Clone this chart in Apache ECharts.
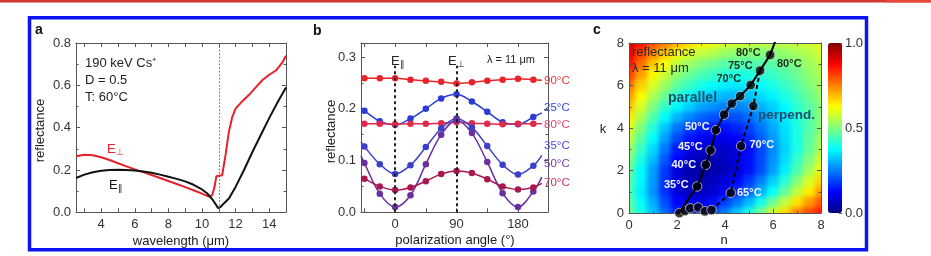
<!DOCTYPE html>
<html>
<head>
<meta charset="utf-8">
<script src="https://cdn.jsdelivr.net/npm/echarts@6/dist/echarts.min.js"></script>
<style>
html, body { margin: 0; padding: 0; background: #fff; }
#wrap { position: relative; width: 931px; height: 256px; overflow: hidden; }
#hmClip { position: absolute; left: 629px; top: 43px; width: 192px; height: 170px; overflow: hidden; }
#hm { position: absolute; left: -12px; top: -12px; width: 216px; height: 194px; filter: blur(2.5px); }
#main { position: absolute; left: 0; top: 0; width: 931px; height: 256px; }
</style>
</head>
<body>
<div id="wrap">
  <div id="hmClip"><div id="hm"></div></div>
  <div id="main"></div>
</div>
<script>
// ---- panel a : reflectance spectra ----
var wlPerp = [2.5, 3.0, 3.5, 4.0, 4.5, 5.0, 5.5, 6.0, 6.5, 7.0, 7.5, 8.0, 8.5, 9.0, 9.5, 10.0, 10.4, 10.6, 10.75, 10.85, 11.2, 11.4, 11.6, 11.8, 12.0, 12.4, 12.8, 13.2, 13.6, 14.0, 14.4, 14.8, 15.0];
var reflPerp = [0.265, 0.272, 0.270, 0.260, 0.247, 0.232, 0.217, 0.203, 0.190, 0.176, 0.162, 0.148, 0.134, 0.119, 0.104, 0.088, 0.074, 0.080, 0.120, 0.170, 0.175, 0.270, 0.380, 0.450, 0.490, 0.525, 0.555, 0.590, 0.625, 0.650, 0.670, 0.710, 0.740];
var wlPar = [2.5, 3.0, 3.5, 4.0, 4.5, 5.0, 5.5, 6.0, 6.5, 7.0, 7.5, 8.0, 8.5, 9.0, 9.5, 10.0, 10.3, 10.6, 10.8, 10.95, 11.1, 11.3, 11.6, 12.0, 12.5, 13.0, 13.5, 14.0, 14.5, 15.0];
var reflPar = [0.162, 0.178, 0.189, 0.196, 0.200, 0.201, 0.200, 0.198, 0.193, 0.187, 0.178, 0.168, 0.158, 0.146, 0.130, 0.108, 0.090, 0.063, 0.040, 0.020, 0.025, 0.042, 0.065, 0.120, 0.200, 0.285, 0.365, 0.445, 0.520, 0.590];
var wlTicks = [3, 4, 5, 6, 7, 8, 9, 10, 11, 12, 13, 14];
var wlLabels = [4, 6, 8, 10, 12, 14];

// ---- panel b : polarization scans at 11 um ----
var angles = [-45, -22.5, 0, 22.5, 45, 67.5, 90, 112.5, 135, 157.5, 180, 202.5];
var lineEndAngles = [-50, 215];
var scan90 = [0.259, 0.259, 0.259, 0.256, 0.254, 0.252, 0.249, 0.251, 0.254, 0.256, 0.258, 0.256];
var scan25 = [0.196, 0.176, 0.169, 0.181, 0.200, 0.220, 0.228, 0.214, 0.194, 0.174, 0.170, 0.184];
var scan80 = [0.171, 0.171, 0.170, 0.171, 0.171, 0.172, 0.174, 0.172, 0.171, 0.170, 0.171, 0.171];
var scan35 = [0.127, 0.093, 0.074, 0.091, 0.126, 0.162, 0.181, 0.164, 0.128, 0.092, 0.073, 0.090];
var scan50 = [0.095, 0.036, 0.010, 0.033, 0.093, 0.150, 0.178, 0.153, 0.097, 0.037, 0.010, 0.040];
var scan70 = [0.065, 0.050, 0.043, 0.048, 0.060, 0.074, 0.080, 0.076, 0.064, 0.050, 0.044, 0.048];
var ends90 = [0.259, 0.255];
var ends25 = [0.201, 0.192];
var ends80 = [0.171, 0.171];
var ends35 = [0.136, 0.110];
var ends50 = [0.109, 0.068];
var ends70 = [0.068, 0.056];
var angleTicks = [-45, 0, 45, 90, 135, 180];
var angleLabels = [0, 90, 180];

// ---- panel c : n,k map ----
var nGrid = [0, 0.5, 1, 1.5, 2, 2.5, 3, 3.5, 4, 4.5, 5, 5.5, 6, 6.5, 7, 7.5, 8];
var kGrid = [0, 0.5, 1, 1.5, 2, 2.5, 3, 3.5, 4, 4.5, 5, 5.5, 6, 6.5, 7, 7.5, 8];
// rows from k = 8 (top) down to k = 0
var reflMap = [
  [0.92, 0.86, 0.80, 0.75, 0.70, 0.66, 0.63, 0.61, 0.59, 0.58, 0.57, 0.56, 0.56, 0.56, 0.57, 0.58, 0.60],
  [0.89, 0.81, 0.74, 0.68, 0.63, 0.59, 0.565, 0.55, 0.525, 0.515, 0.51, 0.505, 0.51, 0.52, 0.535, 0.55, 0.58],
  [0.86, 0.77, 0.68, 0.62, 0.56, 0.53, 0.50, 0.48, 0.46, 0.455, 0.45, 0.455, 0.46, 0.48, 0.50, 0.53, 0.56],
  [0.81, 0.72, 0.635, 0.575, 0.515, 0.48, 0.45, 0.43, 0.41, 0.405, 0.405, 0.415, 0.43, 0.455, 0.48, 0.515, 0.545],
  [0.76, 0.67, 0.59, 0.53, 0.47, 0.43, 0.40, 0.38, 0.36, 0.355, 0.36, 0.38, 0.40, 0.43, 0.46, 0.50, 0.53],
  [0.72, 0.63, 0.545, 0.48, 0.42, 0.38, 0.345, 0.325, 0.305, 0.305, 0.315, 0.34, 0.365, 0.40, 0.44, 0.48, 0.52],
  [0.68, 0.59, 0.50, 0.43, 0.37, 0.33, 0.29, 0.27, 0.25, 0.255, 0.27, 0.30, 0.33, 0.37, 0.42, 0.46, 0.51],
  [0.64, 0.545, 0.455, 0.375, 0.305, 0.26, 0.225, 0.205, 0.195, 0.205, 0.23, 0.27, 0.31, 0.355, 0.41, 0.455, 0.51],
  [0.60, 0.50, 0.41, 0.32, 0.24, 0.19, 0.16, 0.145, 0.14, 0.16, 0.19, 0.24, 0.29, 0.345, 0.40, 0.455, 0.51],
  [0.565, 0.465, 0.375, 0.28, 0.195, 0.145, 0.115, 0.105, 0.105, 0.125, 0.16, 0.215, 0.275, 0.34, 0.40, 0.465, 0.525],
  [0.53, 0.43, 0.34, 0.24, 0.15, 0.10, 0.07, 0.065, 0.07, 0.095, 0.13, 0.19, 0.26, 0.33, 0.40, 0.47, 0.54],
  [0.50, 0.40, 0.31, 0.21, 0.12, 0.075, 0.05, 0.05, 0.065, 0.09, 0.135, 0.195, 0.27, 0.345, 0.425, 0.50, 0.575],
  [0.47, 0.375, 0.28, 0.18, 0.09, 0.05, 0.03, 0.04, 0.06, 0.09, 0.14, 0.20, 0.28, 0.36, 0.45, 0.53, 0.61],
  [0.46, 0.37, 0.275, 0.175, 0.09, 0.057, 0.045, 0.06, 0.09, 0.13, 0.18, 0.25, 0.33, 0.415, 0.505, 0.585, 0.665],
  [0.45, 0.36, 0.27, 0.17, 0.09, 0.065, 0.06, 0.08, 0.12, 0.165, 0.22, 0.30, 0.38, 0.47, 0.56, 0.64, 0.72],
  [0.465, 0.38, 0.295, 0.20, 0.125, 0.105, 0.105, 0.135, 0.185, 0.24, 0.31, 0.395, 0.48, 0.565, 0.65, 0.72, 0.785],
  [0.48, 0.40, 0.32, 0.23, 0.16, 0.145, 0.15, 0.19, 0.25, 0.32, 0.40, 0.49, 0.58, 0.66, 0.74, 0.80, 0.85]
];
var lowN = [2.10, 2.33, 2.55, 2.88, 3.16, 3.44];
var lowK = [0.00, 0.10, 0.22, 0.26, 0.08, 0.14];
var parN = [2.84, 3.20, 3.40, 3.62, 3.96, 4.28, 4.63, 5.07, 5.46, 5.88];
var parK = [1.25, 2.27, 2.95, 3.90, 4.63, 5.15, 5.50, 6.02, 6.70, 7.44];
var perpN = [4.24, 4.67, 5.18];
var perpK = [0.95, 3.15, 5.03];
var parLineStart = [2.02, -0.1], parLineEnd = [6.1, 8.1];
var perpLineStart = [3.44, 0.14], perpLineEnd = [5.46, 6.70];

var jet = ['#00007f', '#0000ff', '#007fff', '#00ffff', '#7fff7f', '#ffff00', '#ff7f00', '#ff0000', '#7f0000'];
var font = 'Liberation Sans, Arial, Helvetica, sans-serif';
var axisCol = '#555';

function zip(xs, ys) {
    var out = [];
    for (var i = 0; i < xs.length; i++) out.push([xs[i], ys[i]]);
    return out;
}

/* heatmap, drawn underneath and softened */
var hmData = [];
for (var r = 0; r < reflMap.length; r++) {
    for (var c = 0; c < nGrid.length; c++) {
        hmData.push([c, kGrid.length - 1 - r, reflMap[r][c]]);
    }
}
var hm = echarts.init(document.getElementById('hm'));
hm.setOption({
    animation: false,
    grid: { left: 6, top: 6.6875, width: 204, height: 180.625 },
    xAxis: { type: 'category', data: nGrid.map(String), show: false },
    yAxis: { type: 'category', data: kGrid.map(String), show: false },
    visualMap: { show: false, min: 0, max: 1, dimension: 2, inRange: { color: jet } },
    series: [{ type: 'heatmap', data: hmData, itemStyle: { borderWidth: 0 }, emphasis: { disabled: true } }]
});

/* axes helpers */
function valAxis(grid, pos, min, max, o) {
    o = o || {};
    var isX = pos === 'bottom' || pos === 'top';
    var main = pos === 'bottom' || pos === 'left';
    var ax = {
        gridIndex: grid, type: 'value', position: pos, min: min, max: max,
        axisLine: { show: true, onZero: false, lineStyle: { color: axisCol, width: 1 } },
        axisTick: { show: true, inside: true, length: 4, lineStyle: { color: axisCol } },
        minorTick: { show: !!o.minor, splitNumber: o.minor || 2, length: 2.5, lineStyle: { color: axisCol } },
        axisLabel: { show: main, color: '#333', fontSize: 13, fontFamily: font, margin: isX ? 6 : 5 },
        splitLine: { show: false }
    };
    if (o.interval) ax.interval = o.interval;
    if (o.ticks) ax.axisTick.customValues = o.ticks;
    if (o.labels) ax.axisLabel.customValues = o.labels;
    if (o.fmt) ax.axisLabel.formatter = o.fmt;
    return ax;
}
var f1 = function (v) { return v.toFixed(1); };

function scanSeries(vals, ends, color) {
    var d = [{ value: [lineEndAngles[0], ends[0]], symbol: 'none' }];
    for (var i = 0; i < angles.length; i++) d.push([angles[i], vals[i]]);
    d.push({ value: [lineEndAngles[1], ends[1]], symbol: 'none' });
    return {
        type: 'line', xAxisIndex: 2, yAxisIndex: 2, smooth: 0.35, data: d,
        symbol: 'circle', symbolSize: 6.5, showAllSymbol: true,
        lineStyle: { color: color, width: 1.5 }, itemStyle: { color: color }
    };
}

var text = function (x, y, t, o) {
    o = o || {};
    return {
        type: 'text', x: x, y: y, rotation: o.rot || 0, z: 100,
        style: {
            text: t, fill: o.color || '#222', align: o.align || 'left', verticalAlign: 'middle',
            font: (o.bold ? 'bold ' : '') + (o.size || 13) + 'px ' + font, rich: o.rich
        }
    };
};
function eLabel(x, y, sub, color) {
    return text(x, y, '{e|E}{s|' + sub + '}', {
        color: color, rich: {
            e: { fontSize: 13, fontFamily: font, fill: color },
            s: { fontSize: 9, fontFamily: font, fill: color, padding: [7, 0, 0, 0] }
        }
    });
}

var series = [
    { type: 'line', xAxisIndex: 0, yAxisIndex: 0, data: zip(wlPerp, reflPerp), showSymbol: false,
      lineStyle: { color: '#e8202a', width: 2 }, z: 3 },
    { type: 'line', xAxisIndex: 0, yAxisIndex: 0, data: zip(wlPar, reflPar), showSymbol: false,
      lineStyle: { color: '#111', width: 2 }, z: 4,
      markLine: { symbol: 'none', silent: true, label: { show: false },
                  lineStyle: { color: '#666', type: [1.5, 2], width: 1 }, data: [{ xAxis: 11 }] } },
    scanSeries(scan90, ends90, '#e8242a'),
    scanSeries(scan25, ends25, '#2b3bd6'),
    scanSeries(scan80, ends80, '#e02a4c'),
    scanSeries(scan35, ends35, '#3a3fcc'),
    scanSeries(scan50, ends50, '#6b2ea0'),
    scanSeries(scan70, ends70, '#a8184e'),
    { type: 'line', xAxisIndex: 4, yAxisIndex: 4, showSymbol: false,
      data: [parLineStart].concat(zip(parN, parK), [parLineEnd]),
      lineStyle: { color: '#000', width: 2 } },
    { type: 'line', xAxisIndex: 4, yAxisIndex: 4, showSymbol: false,
      data: [perpLineStart].concat(zip(perpN, perpK), [perpLineEnd]),
      lineStyle: { color: '#000', width: 2, type: [4, 3] } },
    { type: 'scatter', xAxisIndex: 4, yAxisIndex: 4, clip: false, symbolSize: 9.5,
      data: zip(lowN, lowK).concat(zip(parN, parK), zip(perpN, perpK)),
      itemStyle: { color: '#050505', borderColor: '#c8c8c8', borderWidth: 1 } },
    { type: 'scatter', xAxisIndex: 6, yAxisIndex: 6, data: [] }
];
// dashed E-field guides in panel b
series[4].markLine = {
    symbol: 'none', silent: true, label: { show: false },
    lineStyle: { color: '#222', type: [3, 3], width: 2 },
    data: [[{ coord: [0, 0] }, { coord: [0, 0.283] }], [{ coord: [90, 0] }, { coord: [90, 0.283] }]]
};

var main = echarts.init(document.getElementById('main'));
main.setOption({
    animation: false,
    backgroundColor: 'transparent',
    textStyle: { fontFamily: font },
    grid: [
        { left: 76, top: 43, width: 210, height: 169.3 },
        { left: 361, top: 43, width: 187, height: 169.3 },
        { left: 629, top: 43, width: 192, height: 170 },
        { left: 828, top: 43, width: 14, height: 170 }
    ],
    xAxis: [
        valAxis(0, 'bottom', 2.5, 15, { ticks: wlTicks, labels: wlLabels }),
        valAxis(0, 'top', 2.5, 15, { ticks: wlTicks }),
        valAxis(1, 'bottom', -50, 224, { ticks: angleTicks, labels: angleLabels }),
        valAxis(1, 'top', -50, 224, { ticks: angleTicks }),
        valAxis(2, 'bottom', 0, 8, { interval: 2, minor: 2 }),
        valAxis(2, 'top', 0, 8, { interval: 2, minor: 2 }),
        { gridIndex: 3, type: 'value', min: 0, max: 1, show: false }
    ],
    yAxis: [
        valAxis(0, 'left', 0, 0.8, { interval: 0.2, minor: 2, fmt: f1 }),
        valAxis(0, 'right', 0, 0.8, { interval: 0.2, minor: 2 }),
        valAxis(1, 'left', 0, 0.327, { interval: 0.1, minor: 2, labels: [0, 0.1, 0.2, 0.3], fmt: f1 }),
        valAxis(1, 'right', 0, 0.327, { interval: 0.1, minor: 2 }),
        valAxis(2, 'left', 0, 8, { interval: 2, minor: 2 }),
        valAxis(2, 'right', 0, 8, { interval: 2, minor: 2 }),
        (function () {
            var a = valAxis(3, 'right', 0, 1, { interval: 0.5, minor: 5, fmt: f1 });
            a.axisLine.show = false;
            a.axisLabel.show = true;
            a.axisLabel.margin = 3;
            a.axisTick.length = 3;
            a.minorTick.length = 2;
            return a;
        })()
    ],
    visualMap: [{
        type: 'continuous', min: 0, max: 1, seriesIndex: series.length - 1,
        left: 828, top: 43, itemWidth: 14, itemHeight: 170, padding: 0,
        calculable: false, showLabel: false, inRange: { color: jet }
    }],
    series: series,
    graphic: [
        { type: 'rect', shape: { x: 29.5, y: 17.8, width: 837, height: 232 }, silent: true,
          style: { fill: 'none', stroke: '#0c14f2', lineWidth: 3.5 } },
        { type: 'line', shape: { x1: 0, y1: 1.3, x2: 886, y2: 1.3 }, style: { stroke: '#d03a32', lineWidth: 2.5 } },
        { type: 'line', shape: { x1: 886, y1: 1.3, x2: 931, y2: 1.3 }, style: { stroke: '#e8473c', lineWidth: 2.8 } },
        // panel a
        text(35, 30, 'a', { bold: true, size: 14, color: '#111' }),
        text(85, 63, '190 keV Cs\u207A', { color: '#222' }),
        text(85, 80, 'D = 0.5', { color: '#222' }),
        text(85, 97, 'T: 60\u00B0C', { color: '#222' }),
        eLabel(107, 149, '\u22A5', '#e8202a'),
        eLabel(109, 185, '\u2225', '#111'),
        text(40, 130.5, 'reflectance', { align: 'center', rot: Math.PI / 2 }),
        text(181, 241.5, 'wavelength (\u03BCm)', { align: 'center' }),
        // panel b
        text(313, 31, 'b', { bold: true, size: 14, color: '#111' }),
        eLabel(391, 61, '\u2225', '#222'),
        eLabel(448, 61, '\u22A5', '#222'),
        text(487, 60, '\u03BB = 11 \u03BCm', { size: 11 }),
        text(544, 81, '90\u00B0C', { size: 11.5, color: '#e83a3a' }),
        text(544, 107.5, '25\u00B0C', { size: 11.5, color: '#3446dd' }),
        text(544, 125, '80\u00B0C', { size: 11.5, color: '#e0446c' }),
        text(544, 146, '35\u00B0C', { size: 11.5, color: '#4a4ad2' }),
        text(544, 164, '50\u00B0C', { size: 11.5, color: '#7a3aaa' }),
        text(544, 182.5, '70\u00B0C', { size: 11.5, color: '#c63262' }),
        text(331.5, 131.5, 'reflectance', { align: 'center', rot: Math.PI / 2 }),
        text(455, 240, 'polarization angle (\u00B0)', { align: 'center' }),
        // panel c
        text(593, 30, 'c', { bold: true, size: 14, color: '#111' }),
        text(632, 52.5, 'reflectance', { color: '#2a2a20' }),
        text(632, 68.5, '\u03BB = 11 \u03BCm', { color: '#2a2a20' }),
        text(736, 52.5, '80\u00B0C', { bold: true, size: 11, color: '#1d2d20' }),
        text(728, 66, '75\u00B0C', { bold: true, size: 11, color: '#1d2d20' }),
        text(716.5, 79, '70\u00B0C', { bold: true, size: 11, color: '#1d2d20' }),
        text(777, 63.5, '80\u00B0C', { bold: true, size: 11, color: '#1d2d20' }),
        text(668, 98.5, 'parallel', { bold: true, size: 14, color: '#1d4f70' }),
        text(758, 115, 'perpend.', { bold: true, size: 13.5, color: '#1d4f70' }),
        text(685, 127, '50\u00B0C', { bold: true, size: 11, color: '#f2f2ff' }),
        text(678, 147, '45\u00B0C', { bold: true, size: 11, color: '#f2f2ff' }),
        text(671.5, 165, '40\u00B0C', { bold: true, size: 11, color: '#f2f2ff' }),
        text(664, 185, '35\u00B0C', { bold: true, size: 11, color: '#f2f2ff' }),
        text(749.5, 145, '70\u00B0C', { bold: true, size: 11, color: '#f2f2ff' }),
        text(737, 192.5, '65\u00B0C', { bold: true, size: 11, color: '#f2f2ff' }),
        text(603, 129, 'k', { align: 'center' }),
        text(724, 240, 'n', { align: 'center' })
    ]
});
</script>
</body>
</html>
